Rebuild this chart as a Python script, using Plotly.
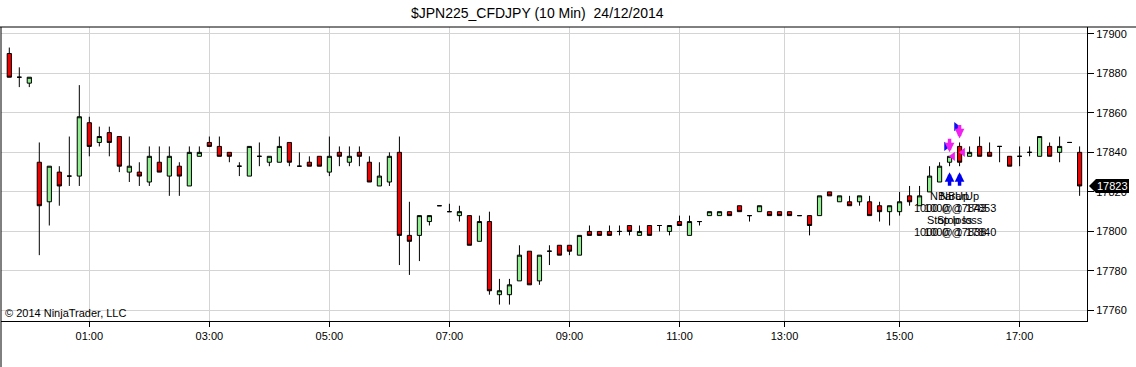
import plotly.graph_objects as go

# ---- data (10-minute bars) ----
opens = [17890, 17878, 17875, 17835, 17815, 17830, 17828, 17828, 17855, 17845,
         17850, 17848, 17830, 17830, 17825, 17835, 17828, 17833, 17823, 17838,
         17845, 17843, 17840, 17833, 17828, 17838, 17835, 17835, 17845, 17833,
         17835, 17838, 17830, 17840, 17835, 17840, 17835, 17823, 17825, 17840,
         17798, 17798, 17805, 17813, 17810, 17808, 17808, 17795, 17805, 17768,
         17768, 17775, 17790, 17775, 17790, 17793, 17793, 17788, 17800, 17800,
         17800, 17800, 17803, 17798, 17803, 17803, 17800, 17805, 17798, 17805,
         17808, 17808, 17810, 17813, 17808, 17810, 17810, 17810, 17810, 17808,
         17808, 17808, 17820, 17815, 17815, 17815, 17815, 17813, 17810, 17810,
         17818, 17813, 17820, 17825, 17835, 17843, 17838, 17843, 17840, 17843,
         17838, 17838, 17840, 17838, 17843, 17840, 17845, 17840]
highs = [17893, 17883, 17878, 17845, 17833, 17833, 17848, 17874, 17858, 17853,
         17853, 17848, 17848, 17835, 17843, 17843, 17843, 17835, 17843, 17843,
         17848, 17848, 17840, 17835, 17843, 17845, 17838, 17848, 17845, 17840,
         17838, 17838, 17848, 17843, 17843, 17843, 17838, 17835, 17840, 17848,
         17815, 17808, 17808, 17813, 17814, 17813, 17808, 17808, 17810, 17776,
         17776, 17793, 17790, 17788, 17793, 17793, 17793, 17798, 17803, 17800,
         17803, 17803, 17803, 17803, 17803, 17803, 17803, 17808, 17808, 17805,
         17810, 17810, 17810, 17813, 17808, 17813, 17810, 17810, 17810, 17808,
         17808, 17818, 17820, 17818, 17818, 17818, 17818, 17815, 17813, 17820,
         17823, 17823, 17833, 17835, 17838, 17845, 17843, 17848, 17845, 17843,
         17838, 17843, 17843, 17848, 17845, 17848, 17845, 17843]
lows = [17878, 17873, 17873, 17788, 17803, 17813, 17823, 17823, 17838, 17843,
        17838, 17830, 17825, 17823, 17823, 17830, 17818, 17818, 17823, 17838,
        17843, 17838, 17835, 17828, 17828, 17833, 17833, 17835, 17833, 17833,
        17833, 17833, 17828, 17833, 17833, 17833, 17825, 17823, 17823, 17783,
        17778, 17785, 17803, 17813, 17810, 17805, 17793, 17795, 17768, 17763,
        17763, 17775, 17773, 17773, 17783, 17788, 17788, 17788, 17798, 17798,
        17798, 17798, 17798, 17798, 17798, 17800, 17798, 17803, 17798, 17803,
        17808, 17808, 17808, 17810, 17805, 17810, 17808, 17808, 17808, 17808,
        17798, 17808, 17818, 17815, 17813, 17813, 17808, 17805, 17803, 17808,
        17813, 17813, 17820, 17825, 17833, 17833, 17838, 17838, 17838, 17835,
        17833, 17833, 17838, 17838, 17838, 17835, 17845, 17818]
closes = [17878, 17878, 17878, 17813, 17833, 17823, 17828, 17858, 17843, 17848,
          17845, 17833, 17833, 17828, 17838, 17830, 17838, 17828, 17840, 17840,
          17843, 17838, 17838, 17833, 17843, 17838, 17838, 17843, 17835, 17833,
          17833, 17833, 17838, 17838, 17838, 17838, 17825, 17828, 17838, 17798,
          17795, 17808, 17808, 17813, 17810, 17810, 17793, 17805, 17770, 17770,
          17773, 17788, 17773, 17788, 17790, 17788, 17790, 17798, 17798, 17798,
          17798, 17800, 17800, 17800, 17798, 17803, 17803, 17803, 17805, 17805,
          17810, 17810, 17808, 17810, 17808, 17813, 17808, 17808, 17808, 17808,
          17803, 17818, 17818, 17818, 17813, 17818, 17808, 17810, 17813, 17815,
          17815, 17818, 17828, 17833, 17838, 17835, 17840, 17838, 17838, 17843,
          17833, 17838, 17840, 17848, 17838, 17843, 17845, 17823]

tick_bars = [8, 20, 32, 44, 56, 67, 77.5, 89, 101]
tick_labels = ["01:00", "03:00", "05:00", "07:00", "09:00", "11:00", "13:00", "15:00", "17:00"]

# executions (bar index, entry price, exit price)
exec_bars = [94, 95]
entry_prices = [17843, 17853]
exit_prices = [17838, 17840]
exec_qty = 1000
entry_name = "NBarUp"
exit_name = "Stop loss"

title_text = "$JPN225_CFDJPY (10 Min)\u00a0\u00a024/12/2014"
copyright_text = "\u00a9 2014 NinjaTrader, LLC"

FONT = "Arial, Liberation Sans, sans-serif"
x_idx = list(range(len(opens)))
last_price = closes[-1]

fig = go.Figure()
fig.add_trace(go.Candlestick(
    x=x_idx, open=opens, high=highs, low=lows, close=closes,
    increasing=dict(fillcolor="#90EE90", line=dict(color="black", width=1)),
    decreasing=dict(fillcolor="#EE0000", line=dict(color="black", width=1)),
    whiskerwidth=0, hoverinfo="skip", showlegend=False,
))

# entry / exit triangles
fig.add_trace(go.Scatter(
    x=[b - 0.33 for b in exec_bars], y=entry_prices, mode="markers",
    marker=dict(symbol="triangle-right", size=8, color="#1010F0"),
    hoverinfo="skip", showlegend=False))
fig.add_trace(go.Scatter(
    x=[b + 0.33 for b in exec_bars], y=exit_prices, mode="markers",
    marker=dict(symbol="triangle-left", size=8, color="#F020F0"),
    hoverinfo="skip", showlegend=False))

annotations = []
for b in exec_bars:
    lo = lows[b]
    hi = highs[b]
    # blue up arrow below the bar
    annotations.append(dict(x=b, y=lo, xref="x", yref="y", text="", showarrow=True,
                            arrowhead=2, arrowsize=0.55, arrowwidth=3.5, arrowcolor="#0000F0",
                            ax=0, ay=15, yshift=-6, standoff=0, startstandoff=0))
    # magenta down arrow above the bar
    annotations.append(dict(x=b, y=hi, xref="x", yref="y", text="", showarrow=True,
                            arrowhead=2, arrowsize=0.55, arrowwidth=3.5, arrowcolor="#F020F0",
                            ax=0, ay=-15, yshift=4, standoff=0, startstandoff=0))
for b, ep, xp in zip(exec_bars, entry_prices, exit_prices):
    lines = [entry_name, f"{exec_qty} @ {ep}", exit_name, f"{exec_qty} @ {xp}"]
    for k, t in enumerate(lines):
        annotations.append(dict(x=b, y=min(lows[e] for e in exec_bars), xref="x", yref="y",
                                text=t, showarrow=False, yshift=-30 - 12 * k,
                                font=dict(family=FONT, size=11, color="#000000"),
                                xanchor="center", yanchor="middle"))

annotations.append(dict(x=0, y=0, xref="paper", yref="paper", text=copyright_text,
                        showarrow=False, xanchor="left", yanchor="bottom", xshift=2, yshift=0,
                        font=dict(family=FONT, size=11, color="#000000")))
annotations.append(dict(x=1, y=last_price, xref="paper", yref="y", text=f"{last_price}",
                        showarrow=False, xanchor="left", yanchor="middle", xshift=9,
                        font=dict(family=FONT, size=11, color="#FFFFFF"),
                        bgcolor="#000000", borderpad=0))

shapes = [
    dict(type="line", xref="paper", yref="paper", x0=-0.01, x1=1.06, y0=1, y1=1,
         line=dict(color="black", width=1)),
    dict(type="line", xref="paper", yref="paper", x0=0, x1=0, y0=-0.2, y1=1,
         line=dict(color="black", width=1)),
    dict(type="path", xref="paper", yref="y", xsizemode="pixel", ysizemode="pixel",
         xanchor=1, yanchor=last_price,
         path="M 2 0 L 9 7 L 42 7 L 42 -7 L 9 -7 Z",
         fillcolor="#000000", line=dict(width=0), layer="above"),
]

fig.update_layout(
    width=1136, height=367,
    margin=dict(l=1, r=49, t=27, b=46, autoexpand=False),
    paper_bgcolor="white", plot_bgcolor="white",
    boxgap=0.4,
    hovermode=False,
    title=dict(text=title_text, x=561 / 1136, xanchor="center", xref="paper",
               y=1 - 13 / 367, yref="container", yanchor="middle",
               font=dict(family=FONT, size=14, color="#000000")),
    annotations=annotations,
    shapes=shapes,
    xaxis=dict(range=[-0.83, 107.74], tickvals=tick_bars, ticktext=tick_labels,
               showgrid=True, gridcolor="#D4D4D4", gridwidth=1, zeroline=False,
               showline=True, linecolor="black", linewidth=1,
               ticks="outside", ticklen=5, tickcolor="black",
               tickfont=dict(family=FONT, size=11, color="#000000"),
               rangeslider=dict(visible=False), fixedrange=True),
    yaxis=dict(range=[17754.7, 17903.4], side="right", tick0=17760, dtick=20,
               tickformat="d",
               showgrid=True, gridcolor="#D4D4D4", gridwidth=1, zeroline=False,
               showline=True, linecolor="black", linewidth=1,
               ticks="outside", ticklen=6, tickcolor="black",
               ticklabelstandoff=0,
               tickfont=dict(family=FONT, size=11, color="#000000"), fixedrange=True),
)

fig.write_html("out.html", config=dict(displayModeBar=False))
